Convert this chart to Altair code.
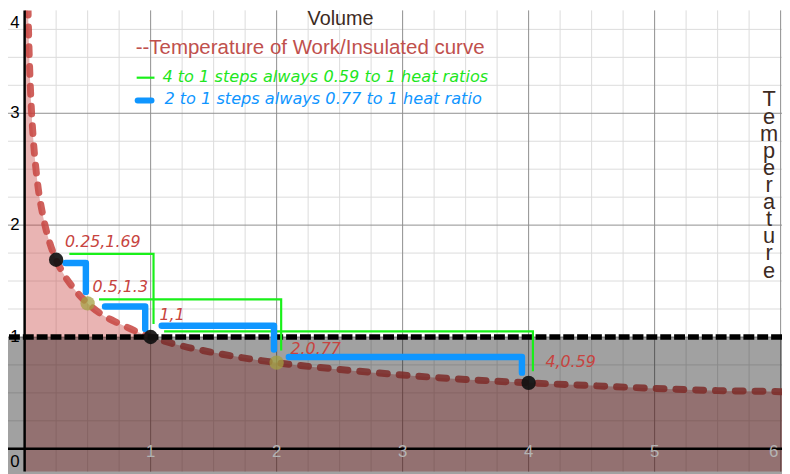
import altair as alt
import pandas as pd

# ---------------- data ----------------
curve_v = [0.005, 0.01, 0.015, 0.02, 0.03, 0.04, 0.05, 0.07, 0.1, 0.15, 0.2, 0.25, 0.3, 0.4, 0.5,
           0.6, 0.75, 1, 1.25, 1.5, 2, 2.5, 3, 3.5, 4, 4.5, 5, 5.5, 6, 6.2]
curve_t = [7.49, 5.75, 4.93, 4.42, 3.79, 3.40, 3.12, 2.75, 2.40, 2.06, 1.84, 1.69, 1.58, 1.42, 1.30,
           1.21, 1.12, 1.00, 0.92, 0.86, 0.77, 0.71, 0.66, 0.62, 0.59, 0.565, 0.54, 0.52, 0.51, 0.50]

black_pts_v = [0.25, 1, 4]
black_pts_t = [1.69, 1, 0.59]
olive_pts_v = [0.5, 2]
olive_pts_t = [1.3, 0.77]

label_texts = ["0.25,1.69", "0.5,1.3", "1,1", "2.0.77", "4,0.59"]
label_v = [0.25, 0.5, 1, 2, 4]
label_t = [1.69, 1.3, 1, 0.77, 0.59]

# green 4-to-1 steps: start x, level, end x, drop level
green_start = [0.355, 0.59, 1.107]
green_level = [1.743, 1.336, 1.050]
green_end = [1.023, 2.036, 4.034]
green_drop = [1.115, 0.879, 0.693]

# blue 2-to-1 steps
blue_start = [0.324, 0.638, 1.088, 2.097]
blue_level = [1.661, 1.272, 1.100, 0.820]
blue_end = [0.486, 0.957, 1.979, 3.947]
blue_drop = [1.401, 1.071, 0.888, 0.681]

ref_level = [1]
x_tick_labels = ["1", "2", "3", "4", "5"]
x_tick_vals = [1, 2, 3, 4, 5]
y_tick_labels = ["1", "2", "3"]
y_tick_vals = [1, 2, 3]

major_x = [1, 2, 3, 4, 5, 6]
minor_x = [0.25, 0.5, 0.75, 1.25, 1.5, 1.75, 2.25, 2.5, 2.75, 3.25, 3.5, 3.75,
           4.25, 4.5, 4.75, 5.25, 5.5, 5.75]
major_y = [1, 2, 3]
minor_y = [0.25, 0.5, 0.75, 1.25, 1.5, 1.75, 2.25, 2.5, 2.75, 3.25, 3.5, 3.75]

# ---------------- chart ----------------
W, H = 782, 466
xs = alt.Scale(domain=[-0.132, 6.011], nice=False, zero=False)
ys = alt.Scale(domain=[-0.204, 3.92], nice=False, zero=False)


def X(f):
    return alt.X(f, type="quantitative", scale=xs, axis=None)


def Y(f):
    return alt.Y(f, type="quantitative", scale=ys, axis=None, stack=None)


RED = "#c74440"
curve_df = pd.DataFrame({"v": curve_v, "t": curve_t})


def steps_df(start, level, end, drop):
    rows = []
    for i in range(len(start)):
        rows.append({"s": i, "o": 0, "x": start[i], "y": level[i]})
        rows.append({"s": i, "o": 1, "x": end[i], "y": level[i]})
        rows.append({"s": i, "o": 2, "x": end[i], "y": drop[i]})
    return pd.DataFrame(rows)


layers = []
layers.append(alt.Chart(pd.DataFrame({"v": minor_x})).mark_rule(color="#dcdcdc", strokeWidth=1).encode(x=X("v")))
layers.append(alt.Chart(pd.DataFrame({"v": minor_y})).mark_rule(color="#dcdcdc", strokeWidth=1).encode(y=Y("v")))
layers.append(alt.Chart(pd.DataFrame({"v": major_x})).mark_rule(color="#8f8f8f", strokeWidth=1).encode(x=X("v")))
layers.append(alt.Chart(pd.DataFrame({"v": major_y})).mark_rule(color="#8f8f8f", strokeWidth=1).encode(y=Y("v")))

layers.append(alt.Chart(curve_df).mark_area(color=RED, opacity=0.4, interpolate="monotone", clip=True)
              .encode(x=X("v"), y=Y("t"), y2=alt.value(H + 20)))
layers.append(alt.Chart(curve_df).mark_line(color=RED, opacity=0.85, strokeWidth=7, strokeDash=[8, 12],
                                            strokeCap="round", interpolate="monotone", clip=True)
              .encode(x=X("v"), y=Y("t")))
layers.append(alt.Chart(pd.DataFrame({"v": ref_level})).mark_rect(color="black", opacity=0.37)
              .encode(x=alt.value(0), x2=alt.value(W), y=Y("v"), y2=alt.value(H + 20)))

layers.append(alt.Chart(pd.DataFrame({"v": [0]})).mark_rule(color="black", strokeWidth=2.5).encode(y=Y("v")))
layers.append(alt.Chart(pd.DataFrame({"v": [0]})).mark_rule(color="black", strokeWidth=2.5).encode(x=X("v")))

layers.append(alt.Chart(pd.DataFrame({"v": ref_level})).mark_rule(color="black", strokeWidth=5.5, strokeDash=[11, 3])
              .encode(y=Y("v")))

layers.append(alt.Chart(steps_df(green_start, green_level, green_end, green_drop))
              .mark_line(color="#19f019", strokeWidth=2.2, clip=True)
              .encode(x=X("x"), y=Y("y"), detail="s:N", order="o:Q"))
layers.append(alt.Chart(steps_df(blue_start, blue_level, blue_end, blue_drop))
              .mark_line(color="#0f96ff", strokeWidth=6.5, strokeCap="round", strokeJoin="round", clip=True)
              .encode(x=X("x"), y=Y("y"), detail="s:N", order="o:Q"))

layers.append(alt.Chart(pd.DataFrame({"v": olive_pts_v, "t": olive_pts_t}))
              .mark_circle(size=210, color="#a4a043", opacity=0.75).encode(x=X("v"), y=Y("t")))
layers.append(alt.Chart(pd.DataFrame({"v": black_pts_v, "t": black_pts_t}))
              .mark_circle(size=210, color="#111111", opacity=0.92).encode(x=X("v"), y=Y("t")))

label_offsets = [(9, -18), (5, -17), (9, -22), (14, -14), (17, -21)]
for i, txt in enumerate(label_texts):
    dx, dy = label_offsets[i]
    layers.append(alt.Chart(pd.DataFrame({"v": [label_v[i]], "t": [label_t[i]], "s": [txt]}))
                  .mark_text(font="DejaVu Sans", fontStyle="italic", fontSize=16, color=RED,
                             align="left", baseline="middle", dx=dx, dy=dy)
                  .encode(x=X("v"), y=Y("t"), text="s:N"))

# axis tick labels
layers.append(alt.Chart(pd.DataFrame({"v": x_tick_vals, "s": x_tick_labels, "z": [0] * 5}))
              .mark_text(font="Liberation Sans", fontSize=17, color="#b4b4b4", align="center", baseline="middle", dy=3)
              .encode(x=X("v"), y=Y("z"), text="s:N"))
layers.append(alt.Chart(pd.DataFrame({"v": [6], "s": ["6"], "z": [0]}))
              .mark_text(font="Liberation Sans", fontSize=17, color="#b4b4b4", align="center", baseline="middle", dy=3, dx=-7)
              .encode(x=X("v"), y=Y("z"), text="s:N"))
layers.append(alt.Chart(pd.DataFrame({"t": y_tick_vals, "s": y_tick_labels, "z": [0] * 3}))
              .mark_text(font="Liberation Sans", fontSize=17, color="black", align="right", baseline="middle", dx=-5)
              .encode(x=X("z"), y=Y("t"), text="s:N"))
layers.append(alt.Chart(pd.DataFrame({"t": [0], "s": ["0"], "z": [0]}))
              .mark_text(font="Liberation Sans", fontSize=17, color="black", align="right", baseline="middle", dx=-5, dy=13)
              .encode(x=X("z"), y=Y("t"), text="s:N"))
layers.append(alt.Chart(pd.DataFrame({"s": ["4"], "z": [0]}))
              .mark_text(font="Liberation Sans", fontSize=17, color="black", align="right", baseline="middle", dx=-5)
              .encode(x=X("z"), y=alt.value(13), text="s:N"))

# titles and legend
BROWN = "#3d2b1f"
layers.append(alt.Chart(pd.DataFrame({"s": ["Volume"]}))
              .mark_text(font="Liberation Sans", fontSize=20, color=BROWN, align="center", baseline="middle")
              .encode(x=alt.value(336), y=alt.value(9), text="s:N"))
layers.append(alt.Chart(pd.DataFrame({"s": ["--Temperature of Work/Insulated curve"]}))
              .mark_text(font="Liberation Sans", fontSize=20.7, color="#c0504d", align="left", baseline="middle")
              .encode(x=alt.value(129), y=alt.value(38), text="s:N"))
layers.append(alt.Chart(pd.DataFrame({"s": ["4 to 1 steps always 0.59 to 1 heat ratios"]}))
              .mark_text(font="DejaVu Sans", fontStyle="italic", fontSize=16.3, color="#1ee61e", align="left", baseline="middle")
              .encode(x=alt.value(156), y=alt.value(67), text="s:N"))
layers.append(alt.Chart(pd.DataFrame({"s": ["2 to 1 steps always 0.77 to 1 heat ratio"]}))
              .mark_text(font="DejaVu Sans", fontStyle="italic", fontSize=16.3, color="#0f96ff", align="left", baseline="middle")
              .encode(x=alt.value(158), y=alt.value(90), text="s:N"))
layers.append(alt.Chart(pd.DataFrame({"k": [0]})).mark_rule(color="#19f019", strokeWidth=2.2)
              .encode(x=alt.value(130), x2=alt.value(148), y=alt.value(68)))
layers.append(alt.Chart(pd.DataFrame({"k": [0]})).mark_rule(color="#0f96ff", strokeWidth=6, strokeCap="round")
              .encode(x=alt.value(131), x2=alt.value(145), y=alt.value(91)))
layers.append(alt.Chart(pd.DataFrame({"k": [0]}))
              .mark_text(text=list("Temperature"), font="Liberation Sans", fontSize=22, lineHeight=17.3,
                         color=BROWN, align="center", baseline="alphabetic")
              .encode(x=alt.value(769), y=alt.value(97)))

chart = alt.layer(*layers).properties(
    width=W, height=H, padding=0, autosize=alt.AutoSizeParams(type="none")
).configure_view(stroke=None)

chart.save("out.html", embed_options={"renderer": "svg", "actions": False})
